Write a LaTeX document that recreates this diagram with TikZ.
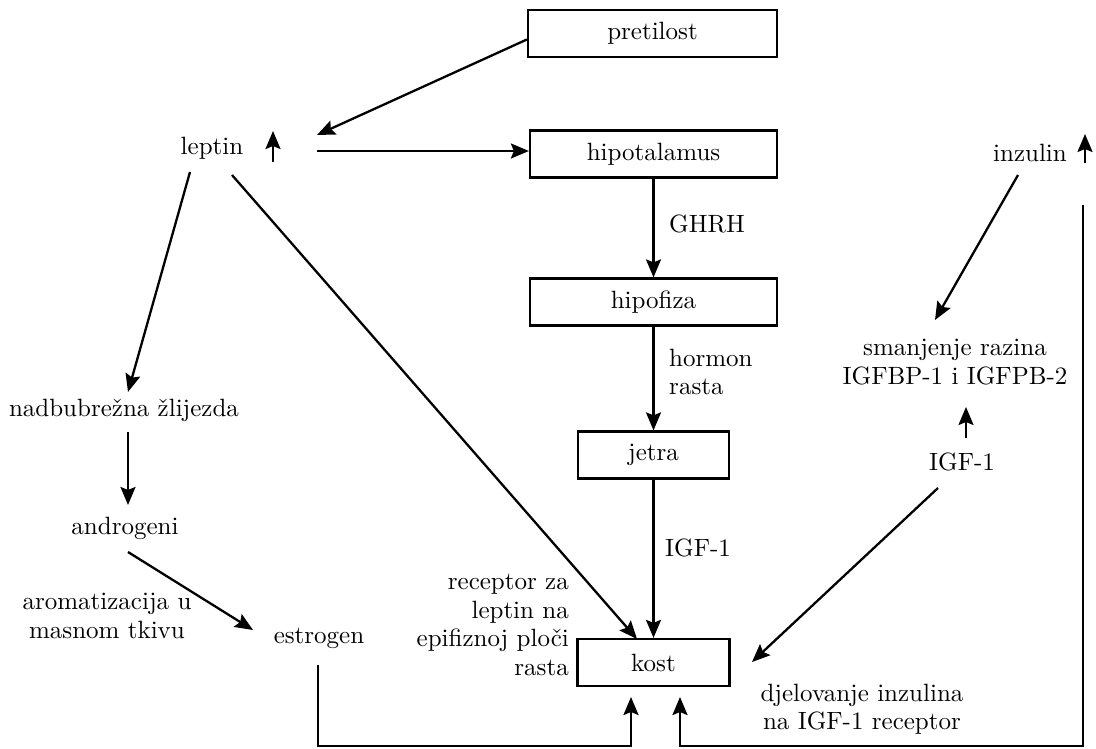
\documentclass[tikz,border=0pt]{standalone}
\usepackage{fontspec}
\setmainfont{lmroman10-regular.otf}
\usetikzlibrary{arrows.meta}
\begin{document}
\begin{tikzpicture}[x=1pt,y=-1pt,
  every node/.style={font=\fontsize{25}{28.5}\selectfont, inner sep=0pt},
  boxnode/.style={draw, line width=2.2pt, minimum height=47pt},
  lbl/.style={align=center},
  arr/.style={line width=2.3pt, -{Stealth[length=18pt,width=15pt,inset=3pt]}}]
\useasboundingbox (0,0) rectangle (1096,749);
% boxes
\node[boxnode, minimum width=249pt] (pretilost) at (652.5,33.5) {pretilost};
\node[boxnode, minimum width=247pt] (hipot) at (653.5,154) {hipotalamus};
\node[boxnode, minimum width=247pt] (hipofiza) at (653.5,302) {hipofiza};
\node[boxnode, minimum width=151pt] (jetra) at (653.5,455) {jetra};
\node[boxnode, minimum width=152pt] (kost) at (653.5,662.5) {kost};
% text nodes
\node (leptin) at (212,148) {leptin};
\node (inzulin) at (1030,153) {inzulin};
\node (nadb) at (124,410) {nadbubrežna žlijezda};
\node (androgeni) at (125,528) {androgeni};
\node[lbl] (aromat) at (107,616) {aromatizacija u\\masnom tkivu};
\node (estrogen) at (319,638) {estrogen};
\node[align=right, anchor=east] (receptor) at (569,625) {receptor za\\leptin na\\epifiznoj ploči\\rasta};
\node[lbl] (smanj) at (955,362) {smanjenje razina\\IGFBP-1 i IGFPB-2};
\node (igfr) at (962,462) {IGF-1};
\node[lbl] (djel) at (862,709) {djelovanje inzulina\\na IGF-1 receptor};
\node (ghrh) at (707,224) {GHRH};
\node[align=left, anchor=west] (hormon) at (669,372) {hormon\\rasta};
\node (igfl) at (698,548) {IGF-1};
% coordinates
\coordinate (lepArrIn) at (317,135);
\coordinate (lepOut) at (317,151);
\coordinate (lepUpA) at (273,162);
\coordinate (lepUpB) at (273,131);
\coordinate (lepDL) at (190,172);
\coordinate (lepDR) at (232,175);
\coordinate (nadbIn) at (128,392);
\coordinate (nadbOut) at (128,432);
\coordinate (andIn) at (128,505);
\coordinate (andOut) at (128,552);
\coordinate (estIn) at (253,630);
\coordinate (kostL) at (637,639);
\coordinate (inzUpA) at (1085,163);
\coordinate (inzUpB) at (1085,134);
\coordinate (inzDown) at (1018,175);
\coordinate (smanjIn) at (935,320);
\coordinate (igfUpA) at (966,438);
\coordinate (igfUpB) at (966,407);
\coordinate (igfOut) at (938,488);
\coordinate (kostR) at (752,662);
\coordinate (estOut) at (318,665);
\coordinate (inzLine) at (1083,205);
\coordinate (kostB1) at (631,697);
\coordinate (kostB2) at (680,697);
% connectors
\draw[arr] ([yshift=-6pt]pretilost.west) -- (lepArrIn);
\draw[arr] (lepOut) -- ([yshift=3pt]hipot.west);
\draw[arr] (lepUpA) -- (lepUpB);
\draw[arr] (hipot.south) -- (hipofiza.north);
\draw[arr] (hipofiza.south) -- (jetra.north);
\draw[arr] (jetra.south) -- (kost.north);
\draw[arr] (lepDL) -- (nadbIn);
\draw[arr] (lepDR) -- (kostL);
\draw[arr] (nadbOut) -- (andIn);
\draw[arr] (andOut) -- (estIn);
\draw[arr] (inzUpA) -- (inzUpB);
\draw[arr] (inzDown) -- (smanjIn);
\draw[arr] (igfUpA) -- (igfUpB);
\draw[arr] (igfOut) -- (kostR);
\draw[arr] (estOut) -- (estOut |- 0,746) -- (kostB1 |- 0,746) -- (kostB1);
\draw[arr] (inzLine) -- (inzLine |- 0,746) -- (kostB2 |- 0,746) -- (kostB2);
\end{tikzpicture}
\end{document}
